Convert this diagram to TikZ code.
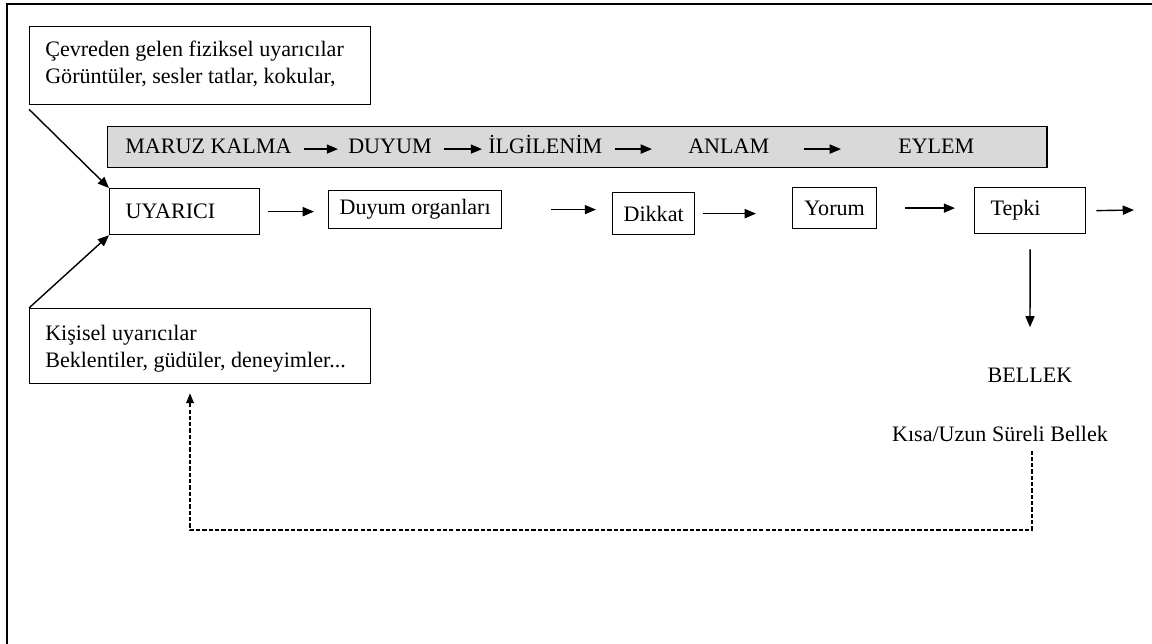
\documentclass[tikz,border=0pt]{standalone}
\usepackage{fontspec}
\setmainfont{Liberation Serif}
\usetikzlibrary{arrows.meta}

\tikzset{
  box/.style={draw, line width=0.9pt, anchor=north west, inner sep=0pt},
  lbox/.style={box, inner xsep=0.4cm, align=left},
  txt/.style={inner sep=0pt, align=left},
  word/.style={inner sep=0pt, anchor=base west, text height=0.7em, text depth=0pt},
  flow/.style={line width=1pt, -{Triangle[length=8pt,width=6.5pt]}},
  back/.style={line width=0.8pt, dash pattern=on 3pt off 1.5pt, -{Triangle[length=7pt,width=5.5pt]}},
}

\begin{document}
\begin{tikzpicture}[x=0.025cm, y=-0.025cm, font=\fontsize{15.7pt}{19.2pt}\selectfont]
\useasboundingbox (0,0) rectangle (1152,644);
\draw[line width=1.1pt] (7,644) -- (7,4) -- (1152,4);

% input boxes
\node[box, minimum width=8.525cm, minimum height=1.95cm] (cevre) at (29,26) {};
\node[txt, anchor=north west] (cevretxt) at (45,41) {Çevreden gelen fiziksel uyarıcılar\\Görüntüler, sesler tatlar, kokular,};
\node[box, minimum width=8.525cm, minimum height=1.875cm] (kisi) at (29,308) {};
\node[txt, anchor=north west] (kisitxt) at (45,325) {Kişisel uyarıcılar\\Beklentiler, güdüler, deneyimler...};

% stage bar
\node[box, fill=gray!30, minimum width=23.475cm, minimum height=1.025cm] (bar) at (107,126) {};
\node[word] (maruz) at (125,154) {MARUZ KALMA};
\node[word] (duyum) at (348,154) {DUYUM};
\node[word] (ilgi) at (488,154) {İLGİLENİM};
\node[word] (anlam) at (688,154) {ANLAM};
\node[word] (eylem) at (898,154) {EYLEM};
\draw[flow] ([xshift=0.3cm]maruz.east) -- ([xshift=-0.25cm]duyum.west);
\draw[flow] ([xshift=0.3cm]duyum.east) -- ([xshift=-0.15cm]ilgi.west);
\draw[flow] ([xshift=0.3cm]ilgi.east) -- ([xshift=-0.9cm]anlam.west);
\draw[flow] ([xshift=0.85cm]anlam.east) -- ([xshift=-1.425cm]eylem.west);

% process row
\node[lbox, text width=2.95cm, minimum height=1.15cm] (uyarici) at (109,188) {UYARICI};
\node[box, minimum width=4.325cm, minimum height=0.95cm] (organ) at (328,190) {Duyum organları};
\node[box, minimum width=2.05cm, minimum height=1.05cm] (dikkat) at (612,192) {Dikkat};
\node[box, minimum width=2.1cm, minimum height=1.025cm] (yorum) at (792,187) {Yorum};
\node[lbox, text width=1.975cm, minimum height=1.15cm] (tepki) at (974,187) {Tepki};
\coordinate (out) at (1134,210);

\draw[flow] ([yshift=-0.1cm]cevre.south west) -- (uyarici.north west);
\draw[flow] (kisi.north west) -- (uyarici.south west);
\draw[flow] ([xshift=0.2cm]uyarici.east) -- ([xshift=-0.35cm]uyarici.east -| organ.west);
\draw[flow] ([xshift=1.225cm]organ.east) -- ([xshift=-0.4cm]organ.east -| dikkat.west);
\draw[flow] ([xshift=0.2cm]dikkat.east) -- ([xshift=-0.9cm]dikkat.east -| yorum.west);
\draw[flow] ([xshift=0.7cm]yorum.east) -- ([xshift=-0.475cm]yorum.east -| tepki.west);
\draw[flow] ([xshift=0.25cm]tepki.east) -- (out);

% memory
\node[txt, anchor=base] (bellek) at (1030,382) {BELLEK};
\node[txt, anchor=base] (kisa) at (1000,441) {Kısa/Uzun Süreli Bellek};
\draw[flow] ([yshift=-0.375cm]tepki.south) -- ([yshift=1cm]bellek.north);
\coordinate (turn) at (1032,530);
\coordinate (turnb) at (190,530);
\draw[back] ([yshift=-0.225cm]kisa.south -| turn) -- (turn) -- (turnb) -- ([yshift=-0.225cm]kisi.south -| turnb);
\end{tikzpicture}
\end{document}
